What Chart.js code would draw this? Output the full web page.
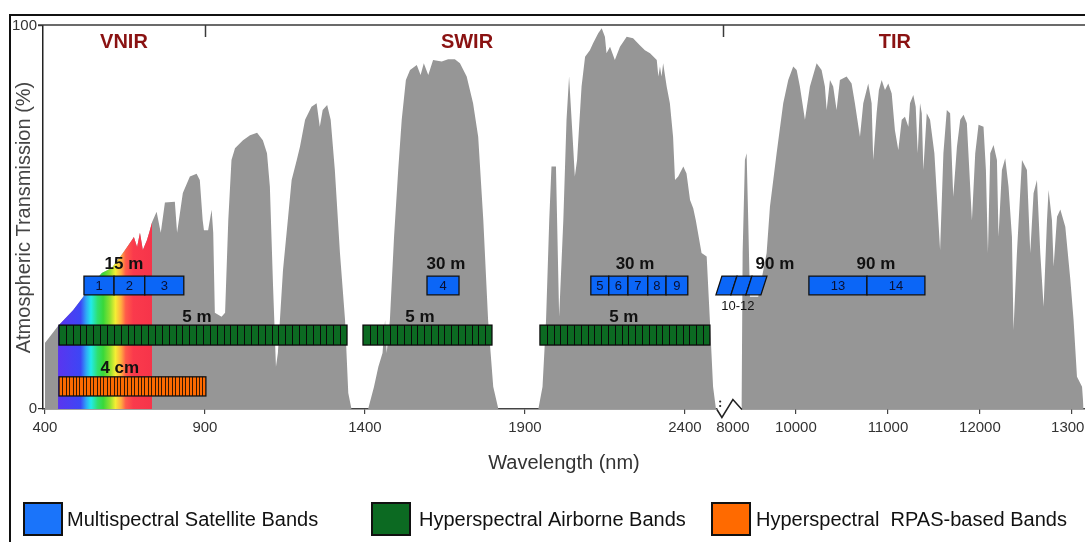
<!DOCTYPE html>
<html>
<head>
<meta charset="utf-8">
<script src="https://cdn.jsdelivr.net/npm/chart.js@4/dist/chart.umd.min.js"></script>
<style>
html,body{margin:0;padding:0;background:#fff;}
canvas{display:block;}
</style>
</head>
<body>
<canvas id="c" width="1085" height="542"></canvas>
<script>
// ---------------- DATA ----------------
// VNIR + SWIR atmospheric transmission (wavelength nm, transmission %)
const vnirSwirNm = [400,441,488,519,541,578,609,644,672,678,688,697,706,719,728,735,749,762,775,806,813,831,853,874,884,893,897,910,921,926,931,952,963,973,983,994,1019,1041,1063,1081,1094,1103,1113,1122,1128,1144,1159,1171,1187,1197,1213,1233,1249,1259,1268,1282,1293,1306,1322,1338,1348,1358,1410,1428,1442,1455,1463,1468,1478,1491,1504,1515,1528,1541,1562,1574,1584,1598,1613,1640,1660,1681,1697,1718,1738,1754,1770,1785,1801,1817,1942,1955,1966,1976,1983,1997,2007,2020,2030,2038,2049,2056,2063,2077,2088,2103,2113,2129,2140,2150,2155,2166,2181,2197,2218,2238,2259,2275,2291,2312,2317,2322,2327,2332,2343,2353,2363,2369,2379,2395,2405,2416,2426,2434,2452,2468,2478,2488,2497];
const vnirSwirT = [17.2,21.7,25.8,29.2,31.9,35.5,36.8,40.7,44.1,44.9,42.3,46.0,41.5,44.1,46.7,48.8,51.5,46.0,53.9,54.1,46.0,56.4,60.7,61.4,59.8,49.3,46.7,46.7,52.0,46.0,25.1,24.1,25.1,49.3,65.0,68.1,70.2,71.5,72.1,70.2,66.8,58.0,31.9,11.0,14.6,36.3,49.3,59.8,65.0,68.5,75.5,78.9,79.8,73.7,78.1,79.4,75.5,62.4,40.7,23.2,4.2,0,0,5.7,11.0,14.6,23.2,14.6,23.2,44.9,62.4,75.5,85.9,88.5,89.8,87.2,90.3,87.2,91.1,90.7,91.3,91.3,90.3,86.8,79.8,71.1,49.3,23.2,5.8,0,0,5.8,23.2,49.3,63.3,63.3,24.1,49.3,75.5,86.8,71.1,60.7,65.0,84.2,92.0,93.7,95.5,98.1,99.4,97.2,92.9,94.6,91.1,94.6,97.2,96.8,95.0,93.7,92.9,91.1,86.8,89.4,86.8,90.3,84.2,79.8,71.1,59.8,60.7,63.3,61.5,54.6,52.4,49.3,40.7,39.8,23.2,5.8,0];
// TIR atmospheric transmission
const tirNm = [8276,8308,8381,8435,8486,8540,8803,9070,9175,9387,9597,9756,9914,10008,10043,10098,10152,10225,10279,10315,10334,10370,10405,10442,10478,10551,10605,10641,10696,10732,10786,10823,10840,10877,10902,10932,10968,11004,11041,11076,11113,11150,11185,11222,11240,11276,11302,11324,11349,11368,11385,11422,11458,11505,11548,11567,11603,11640,11676,11710,11750,11786,11822,11858,11894,11913,11949,11985,12039,12065,12087,12112,12148,12185,12202,12239,12275,12311,12348,12365,12402,12457,12511,12547,12583,12620,12656,12692,12729,12746,12783,12801,12838,12874,12928,12983,13018,13055,13110,13127];
const tirT = [0,40.7,65.0,66.8,49.3,29.3,29.3,40.7,52.8,66.8,79.8,85.9,89.4,88.5,84.2,75.5,84.2,90.3,88.5,84.2,78.1,85.9,84.2,78.1,85.9,86.8,85.0,79.8,71.1,79.8,85.0,79.8,65.0,77.2,83.3,85.9,83.3,85.0,82.4,72.8,67.6,75.5,76.3,73.7,79.8,82.0,78.9,66.8,79.8,77.2,62.4,77.2,75.5,66.8,49.3,41.5,66.8,78.1,77.2,55.4,68.5,75.5,76.8,74.6,58.0,49.3,66.8,74.2,73.7,62.4,40.7,66.8,68.9,65.0,45.0,62.4,65.5,58.0,45.0,20.6,40.7,65.0,62.4,40.7,56.3,59.8,40.7,26.7,49.3,57.2,49.3,37.2,50.2,52.1,47.6,33.7,23.2,8.4,5.8,0];
// visible spectrum (rainbow-filled) range, nm
const visibleRange = [441, 735];
// axis ticks
const xTickNm = [400,900,1400,1900,2400,8000,10000,11000,12000,13000];
const xTickLabels = ['400','900','1400','1900','2400','8000','10000','11000','12000','13000'];
const yTickValues = [0,100];
// spectral regions
const regionNames = ['VNIR','SWIR','TIR'];
const regionCenterNm = [647,1719,11076];
const regionBoundaryNm = [900,7683];
const axisBreakNm = [2500,8284];
// multispectral satellite bands (edges in nm)
const satBandEdges = [[522,616,712,834],[1594,1694],[2106,2162,2222,2284,2341,2409],[7556,8032,8508,8984],[10141,10772,11402]];
const satBandNames = [['1','2','3'],['4'],['5','6','7','8','9'],['','',''],['13','14']];
const satResolution = ['15 m','30 m','30 m','90 m','90 m'];
const satResolutionNm = [647,1653,2244,9334,10870];
const slantedGroupLabel = '10-12';
const slantedGroupLabelNm = 8159;
// hyperspectral airborne bands
const hyperSegments = [[444,1344],[1394,1797],[1947,2478]];
const hyperCellCounts = [42,19,25];
const hyperResolution = ['5 m','5 m','5 m'];
const hyperResolutionNm = [875,1572,2209];
// hyperspectral RPAS bands
const rpasSegment = [444,903];
const rpasCellCount = 43;
const rpasResolution = '4 cm';
const rpasResolutionNm = 634;
// legend
const legendLabels = ['Multispectral Satellite Bands','Hyperspectral Airborne Bands','Hyperspectral  RPAS-based Bands'];
const legendColors = ['#1a74fa','#0c6a22','#ff6a00'];

// ---------------- AXIS MAPPING (broken axis) ----------------
function axisPos(nm) {
  if (nm <= 2600) return nm;
  if (nm < 10000) return 2550 + (nm - 8000) * 0.09845;
  return 2746.9 + (nm - 10000) * 0.2875;
}

const curveData = vnirSwirNm.map((n, i) => ({x: axisPos(n), y: vnirSwirT[i]}))
  .concat(tirNm.map((n, i) => ({x: axisPos(n), y: tirT[i]})));
const visibleData = vnirSwirNm.map((n, i) => ({n, t: vnirSwirT[i]}))
  .filter(p => p.n >= visibleRange[0] && p.n <= visibleRange[1])
  .map(p => ({x: axisPos(p.n), y: p.t}));

const FONT = "'Liberation Sans', Arial, Helvetica, sans-serif";
Chart.defaults.font.family = FONT;

// ---------------- STYLE ----------------
const ST = {
  gray: '#969696',
  satBlue: '#0b66f7',
  hyperGreen: '#0c6a22',
  rpasOrange: '#ff6a00',
  regionRed: '#8a1212',
  satRow: [34.7, 29.8],
  hyperRow: [21.9, 16.7],
  rpasRow: [8.4, 3.4],
  satLabelY: 37.9,
  hyperLabelY: 24.0,
  rpasLabelY: 10.7,
  slantLabelY: 26.9,
  regionLabelY: 95.6
};

function rainbow(ctx) {
  const chart = ctx.chart;
  if (!chart.chartArea) return ST.gray;
  const xs = chart.scales.x;
  const x0 = xs.getPixelForValue(axisPos(visibleRange[0]));
  const x1 = xs.getPixelForValue(axisPos(visibleRange[1]));
  const g = chart.ctx.createLinearGradient(x0, 0, x1, 0);
  g.addColorStop(0.00, '#5a35ef');
  g.addColorStop(0.24, '#3d46f5');
  g.addColorStop(0.30, '#2fa8f6');
  g.addColorStop(0.35, '#22eaea');
  g.addColorStop(0.42, '#2fe070');
  g.addColorStop(0.48, '#39d83a');
  g.addColorStop(0.55, '#8ee030');
  g.addColorStop(0.61, '#f4ee33');
  g.addColorStop(0.67, '#ffae40');
  g.addColorStop(0.72, '#ff5a4a');
  g.addColorStop(0.80, '#fa3a4c');
  g.addColorStop(1.00, '#f6344a');
  return g;
}

const decor = {
  id: 'decor',
  afterDraw(chart) {
    const {ctx, chartArea: ca, scales: {x, y}} = chart;
    const X = nm => x.getPixelForValue(axisPos(nm));
    const Y = v => y.getPixelForValue(v);
    ctx.save();
    // outer frame
    ctx.strokeStyle = '#111'; ctx.lineWidth = 2;
    ctx.beginPath(); ctx.moveTo(10, chart.height + 5); ctx.lineTo(10, 15); ctx.lineTo(chart.width + 5, 15); ctx.stroke();
    // top border of plot
    ctx.strokeStyle = '#3a3a3a'; ctx.lineWidth = 1.5;
    ctx.beginPath(); ctx.moveTo(ca.left - 5, ca.top - 1); ctx.lineTo(ca.right + 2, ca.top - 1); ctx.stroke();
    // region boundaries & labels
    regionBoundaryNm.forEach(n => {
      const px = Math.round(X(n)) + 0.5;
      ctx.beginPath(); ctx.moveTo(px, ca.top - 1); ctx.lineTo(px, ca.top + 11); ctx.stroke();
    });
    ctx.fillStyle = ST.regionRed; ctx.font = 'bold 20px ' + FONT;
    ctx.textAlign = 'center'; ctx.textBaseline = 'middle';
    regionNames.forEach((r, i) => ctx.fillText(r, X(regionCenterNm[i]), Y(ST.regionLabelY)));

    // satellite bands
    const sTop = Y(ST.satRow[0]), sBot = Y(ST.satRow[1]);
    satBandEdges.forEach((edges, g) => {
      const slanted = g === 3;
      const sk = slanted ? 3 : 0;
      for (let i = 0; i < edges.length - 1; i++) {
        const xl = X(edges[i]), xr = X(edges[i + 1]);
        ctx.beginPath();
        ctx.moveTo(xl - sk, sBot); ctx.lineTo(xl + sk, sTop); ctx.lineTo(xr + sk, sTop); ctx.lineTo(xr - sk, sBot); ctx.closePath();
        ctx.fillStyle = ST.satBlue; ctx.fill();
        ctx.strokeStyle = '#111'; ctx.lineWidth = 1.3; ctx.stroke();
        const nm = satBandNames[g][i];
        if (nm) {
          ctx.fillStyle = '#0a1030'; ctx.font = '13px ' + FONT;
          ctx.fillText(nm, (xl + xr) / 2, (sTop + sBot) / 2 + 1);
        }
      }
      ctx.fillStyle = '#111'; ctx.font = 'bold 17px ' + FONT;
      ctx.fillText(satResolution[g], X(satResolutionNm[g]), Y(ST.satLabelY));
    });
    ctx.fillStyle = '#111'; ctx.font = '13px ' + FONT;
    ctx.fillText(slantedGroupLabel, X(slantedGroupLabelNm), Y(ST.slantLabelY));

    // hyperspectral airborne
    const hTop = Y(ST.hyperRow[0]), hBot = Y(ST.hyperRow[1]);
    hyperSegments.forEach((seg, g) => {
      const x0 = X(seg[0]), x1 = X(seg[1]), n = hyperCellCounts[g];
      ctx.fillStyle = ST.hyperGreen; ctx.fillRect(x0, hTop, x1 - x0, hBot - hTop);
      ctx.strokeStyle = '#0a0a0a'; ctx.lineWidth = 1;
      ctx.beginPath();
      for (let i = 1; i < n; i++) { const xx = Math.round(x0 + (x1 - x0) * i / n) + 0.5; ctx.moveTo(xx, hTop); ctx.lineTo(xx, hBot); }
      ctx.stroke();
      ctx.lineWidth = 1.3; ctx.strokeRect(x0, hTop, x1 - x0, hBot - hTop);
      ctx.fillStyle = '#111'; ctx.font = 'bold 17px ' + FONT;
      ctx.fillText(hyperResolution[g], X(hyperResolutionNm[g]), Y(ST.hyperLabelY));
    });

    // RPAS
    const rTop = Y(ST.rpasRow[0]), rBot = Y(ST.rpasRow[1]);
    {
      const x0 = X(rpasSegment[0]), x1 = X(rpasSegment[1]), n = rpasCellCount;
      ctx.fillStyle = ST.rpasOrange; ctx.fillRect(x0, rTop, x1 - x0, rBot - rTop);
      ctx.strokeStyle = '#3a1800'; ctx.lineWidth = 1;
      ctx.beginPath();
      for (let i = 1; i < n; i++) { const xx = Math.round(x0 + (x1 - x0) * i / n) + 0.5; ctx.moveTo(xx, rTop); ctx.lineTo(xx, rBot); }
      ctx.stroke();
      ctx.strokeStyle = '#111'; ctx.lineWidth = 1.3; ctx.strokeRect(x0, rTop, x1 - x0, rBot - rTop);
      ctx.fillStyle = '#111'; ctx.font = 'bold 17px ' + FONT;
      ctx.fillText(rpasResolution, X(rpasResolutionNm), Y(ST.rpasLabelY));
    }

    // axis break zigzag
    const b0 = X(axisBreakNm[0]), b1 = X(axisBreakNm[1]), by = ca.bottom + 0.5, bw = b1 - b0;
    ctx.fillStyle = '#fff'; ctx.fillRect(b0 + 0.5, by - 3, bw - 1, 6);
    ctx.strokeStyle = '#222'; ctx.lineWidth = 1.5;
    ctx.beginPath();
    ctx.moveTo(b0, by); ctx.lineTo(b0 + bw * 0.2, by + 8); ctx.lineTo(b0 + bw * 0.64, by - 10); ctx.lineTo(b1, by);
    ctx.stroke();
    ctx.fillStyle = '#222';
    ctx.beginPath(); ctx.arc(b0 + bw * 0.13, by - 8, 1.1, 0, Math.PI * 2); ctx.fill();
    ctx.beginPath(); ctx.arc(b0 + bw * 0.13, by - 3.5, 1.1, 0, Math.PI * 2); ctx.fill();

    // legend
    const lgBoxX = [24, 372, 712], lgTextX = [67, 419, 756];
    ctx.textAlign = 'left'; ctx.textBaseline = 'middle'; ctx.font = '20px ' + FONT;
    legendLabels.forEach((l, i) => {
      ctx.fillStyle = legendColors[i]; ctx.fillRect(lgBoxX[i], 503, 38, 32);
      ctx.strokeStyle = '#111'; ctx.lineWidth = 2; ctx.strokeRect(lgBoxX[i], 503, 38, 32);
      ctx.fillStyle = '#111'; ctx.fillText(l, lgTextX[i], 520);
    });
    ctx.restore();
  }
};

new Chart(document.getElementById('c'), {
  type: 'line',
  data: {
    datasets: [
      { label: 'Visible', data: visibleData, order: 0, fill: 'origin', backgroundColor: rainbow, borderWidth: 0, pointRadius: 0, tension: 0 },
      { label: 'Atmospheric transmission', data: curveData, order: 1, fill: 'origin', backgroundColor: ST.gray, borderColor: ST.gray, borderWidth: 0, pointRadius: 0, tension: 0 }
    ]
  },
  options: {
    responsive: false,
    animation: false,
    devicePixelRatio: 1,
    layout: { padding: { left: 8, top: 26, right: 0, bottom: 67 } },
    plugins: { legend: { display: false }, tooltip: { enabled: false } },
    scales: {
      x: {
        type: 'linear', min: 394, max: 3650.25, z: 1,
        afterBuildTicks: s => { s.ticks = xTickNm.map(n => ({ value: axisPos(n) })); },
        ticks: { callback: (v, i) => xTickLabels[i], color: '#333', font: { size: 15 }, padding: 5, autoSkip: false, maxRotation: 0 },
        grid: { drawOnChartArea: false, drawTicks: true, tickLength: 5, tickColor: c => (c.index === 5 ? 'rgba(0,0,0,0)' : '#444'), lineWidth: 1.2 },
        border: { color: '#444', width: 1.5 },
        title: { display: true, text: 'Wavelength (nm)', color: '#333', font: { size: 20 }, padding: { top: 0, bottom: 0 } },
        afterFit: s => { s.height = 66; s.paddingLeft = 0; s.paddingRight = 0; }
      },
      y: {
        min: 0, max: 100, z: 1,
        afterBuildTicks: s => { s.ticks = yTickValues.map(v => ({ value: v })); },
        ticks: { color: '#333', font: { size: 15 }, padding: 1 },
        grid: { drawOnChartArea: false, tickLength: 5, tickColor: '#333', lineWidth: 1.2 },
        border: { color: '#222', width: 1.5, dash: [4, 3] },
        title: { display: true, text: 'Atmospheric Transmission (%)', color: '#444', font: { size: 20 }, padding: { top: 4, bottom: 0 } },
        afterFit: s => { s.width = 35; s.paddingTop = 0; s.paddingBottom = 0; }
      }
    }
  },
  plugins: [decor]
});
</script>
</body>
</html>
